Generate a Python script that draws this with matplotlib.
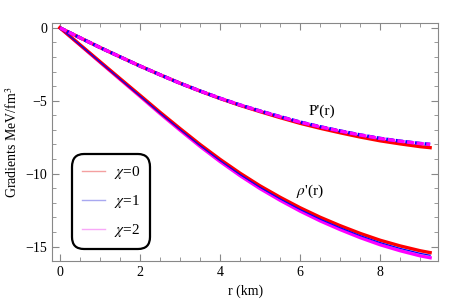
import numpy as np
import matplotlib.pyplot as plt
from matplotlib.ticker import MultipleLocator

plt.rcParams['font.family'] = ['Liberation Serif', 'DejaVu Serif']
plt.rcParams['mathtext.fontset'] = 'stix'

# radius (km)
r = [0, 0.5, 1, 1.5, 2, 2.5, 3, 3.5, 4, 4.5, 5, 5.5, 6, 6.5, 7, 7.5, 8, 8.5, 9, 9.25]

# pressure gradient P'(r)
p_chi0 = [0, -0.68, -1.35, -1.99, -2.62, -3.22, -3.80, -4.34, -4.85, -5.32,
          -5.75, -6.16, -6.55, -6.89, -7.20, -7.49, -7.75, -7.96, -8.15, -8.22]
p_chi1 = [0, -0.68, -1.35, -1.99, -2.62, -3.22, -3.80, -4.33, -4.83, -5.29,
          -5.70, -6.09, -6.46, -6.78, -7.07, -7.34, -7.58, -7.77, -7.93, -7.99]
p_chi2 = [0, -0.68, -1.35, -1.99, -2.62, -3.22, -3.80, -4.33, -4.83, -5.29,
          -5.71, -6.10, -6.47, -6.79, -7.08, -7.35, -7.59, -7.78, -7.94, -8.00]

# density gradient rho'(r)
rho_chi0 = [0, -1.16, -2.32, -3.48, -4.63, -5.79, -6.91, -8.00, -9.02, -9.97,
            -10.84, -11.62, -12.34, -12.99, -13.57, -14.10, -14.57, -14.96, -15.29, -15.42]
rho_chi1 = [0, -1.17, -2.34, -3.51, -4.67, -5.84, -6.97, -8.07, -9.10, -10.06,
            -10.94, -11.73, -12.46, -13.12, -13.71, -14.25, -14.73, -15.13, -15.47, -15.60]
rho_chi2 = [0, -1.18, -2.36, -3.53, -4.70, -5.88, -7.02, -8.13, -9.17, -10.14,
            -11.03, -11.83, -12.57, -13.24, -13.84, -14.39, -14.88, -15.29, -15.64, -15.77]

labels = [r'$\chi$=0', r'$\chi$=1', r'$\chi$=2']

fig = plt.figure(figsize=(4.63, 3.05), dpi=100)
ax = fig.add_axes([0.1123, 0.144, 0.834, 0.781])

# lower curves
ax.plot(r, rho_chi2, color='magenta', lw=2.4)
ax.plot(r, rho_chi0, color='red', lw=2.4)
ax.plot(r, rho_chi1, color='blue', lw=0.9)

# upper curves
ax.plot(r, p_chi0, color='red', lw=2.4)
ax.plot(r, p_chi1, color='blue', lw=2.4, ls=(0.5, (2.2, 0.7)))
ax.plot(r, p_chi2, color='magenta', lw=2.4, ls=(0, (2.2, 0.7)))

ax.text(6.54, -5.75, "P'(r)", fontsize=11, ha='center', va='center')
ax.text(6.25, -11.24, r"$\rho$'(r)", fontsize=11, ha='center', va='center')

# legend with faded samples
for c, lab in zip(['#f4a0a0', '#a8a8f0', '#f8a8f8'], labels):
    ax.plot([], [], color=c, lw=1, label=lab)
leg = ax.legend(loc='lower left', bbox_to_anchor=(0.052, 0.05), fontsize=11,
                frameon=True, fancybox=True, handlelength=1.5,
                labelspacing=0.78, borderpad=0.65, handletextpad=0.6,
                borderaxespad=0)
frame = leg.get_frame()
frame.set_edgecolor('black')
frame.set_linewidth(1.6)
frame.set_alpha(1)
frame.set_boxstyle('round,pad=0.0,rounding_size=0.8')

ax.set_xlim(-0.2, 9.45)
ax.set_ylim(-16.0, 0.34)
ax.xaxis.set_major_locator(MultipleLocator(2))
ax.xaxis.set_minor_locator(MultipleLocator(0.5))
ax.yaxis.set_major_locator(MultipleLocator(5))
ax.yaxis.set_minor_locator(MultipleLocator(1))
ax.tick_params(which='both', direction='in', top=True, right=True,
               color='#888888', labelsize=10)
ax.tick_params(which='major', length=5)
ax.tick_params(which='minor', length=3)
for s in ax.spines.values():
    s.set_color('#888888')

ax.set_xlabel('r (km)', fontsize=10)
ax.set_ylabel('Gradients MeV/fm$^3$', fontsize=10)

fig.savefig('out.png', dpi=100)
